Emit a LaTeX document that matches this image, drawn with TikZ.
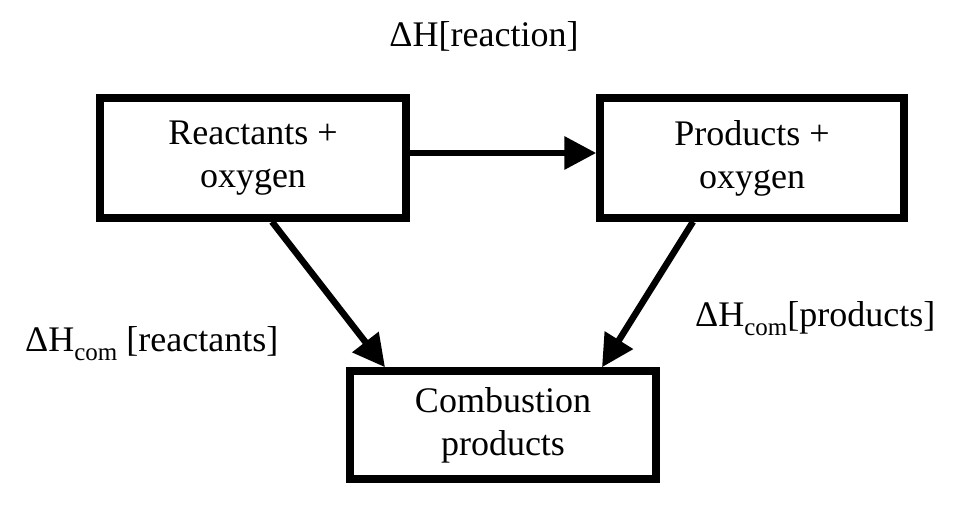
\documentclass[tikz,border=0pt]{standalone}
\usepackage{fontspec}
\setmainfont{Liberation Serif}
\usetikzlibrary{arrows.meta,positioning}
\newcommand{\dHsub}[1]{ΔH\raisebox{-9pt}{\fontsize{25}{25}\selectfont #1}}

\begin{document}
\begin{tikzpicture}[
  x=1pt, y=1pt,
  big/.style={font=\fontsize{36}{43}\selectfont},
  box/.style={draw, line width=7.5pt, minimum width=306pt, minimum height=120pt, align=center, big},
  lbl/.style={big, inner sep=0pt},
  arr/.style={-{Triangle[length=32pt,width=32pt]}, line width=6.5pt},
]
\useasboundingbox (0,0) rectangle (966,506);
\node[box] (react) at (253,348) {Reactants +\\oxygen};
\node[box, minimum width=304pt] (prod) at (752,348) {Products +\\oxygen};
\node[box, minimum height=108pt] (comb) at (503,81) {Combustion\\products};
\draw[arr] ([yshift=5pt]react.east) -- ([yshift=5pt]prod.west);
\draw[arr] ([xshift=19pt]react.south) -- ([xshift=-118pt]comb.north);
\draw[arr] ([xshift=-59pt]prod.south) -- ([xshift=99pt]comb.north);
\node[lbl, anchor=base] (hreac) at (484,459) {ΔH[reaction]};
\node[lbl, anchor=base west] (hcomr) at (25,154) {\dHsub{com} [reactants]};
\node[lbl, anchor=base west] (hcomp) at (695,179) {\dHsub{com}[products]};
\end{tikzpicture}
\end{document}
